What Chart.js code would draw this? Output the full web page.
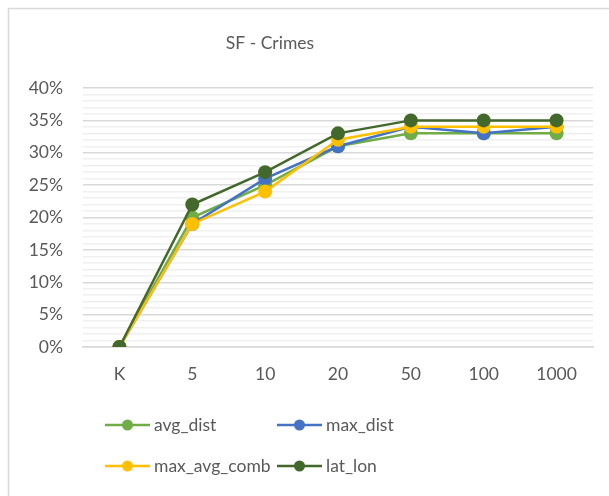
<!DOCTYPE html>
<html>
<head>
<meta charset="utf-8">
<script src="https://cdn.jsdelivr.net/npm/chart.js@4/dist/chart.umd.min.js"></script>
<style>
  html, body { margin: 0; padding: 0; background: #ffffff; }
  #wrap { position: relative; width: 609px; height: 496px; }
  canvas { display: block; }
</style>
</head>
<body>
<div id="wrap"><canvas id="chart" width="609" height="496"></canvas></div>
<script>
// Chart content
const chartTitle = 'SF - Crimes';
const categories = ['K', '5', '10', '20', '50', '100', '1000'];
const avgDist    = [0, 20, 25, 31, 33, 33, 33];
const maxDist    = [0, 19, 26, 31, 34, 33, 34];
const maxAvgComb = [0, 19, 24, 32, 34, 34, 34];
const latLon     = [0, 22, 27, 33, 35, 35, 35];
const seriesNames = ['avg_dist', 'max_dist', 'max_avg_comb', 'lat_lon'];

const FONT = 'Lato, "Open Sans", sans-serif';
const TEXT = '#595959';

// later series are painted over earlier ones (lower order = on top)
function series(label, data, color, order) {
  return {
    label, data, order,
    borderColor: color,
    backgroundColor: color,
    borderWidth: 2.5,
    pointRadius: 7,
    pointHoverRadius: 7,
    pointBorderWidth: 0,
    pointBackgroundColor: color,
    tension: 0
  };
}

// Frame (top and left edges), title and two-column legend
const decor = {
  id: 'decor',
  beforeDraw(chart) {
    const c = chart.ctx;
    c.save();
    c.strokeStyle = '#d9d9d9';
    c.lineWidth = 1.5;
    c.beginPath();
    c.moveTo(8.5, chart.height);
    c.lineTo(8.5, 8.5);
    c.lineTo(chart.width, 8.5);
    c.stroke();
    c.restore();
  },
  afterDraw(chart) {
    const c = chart.ctx;
    c.save();
    c.fillStyle = TEXT;
    c.textAlign = 'center';
    c.textBaseline = 'middle';
    c.font = '17.5px ' + FONT;
    c.fillText(chartTitle, 270, 43);

    const cols = [105, 277];
    const rows = [425, 466];
    chart.data.datasets.forEach((ds, i) => {
      const x = cols[i % 2], y = rows[Math.floor(i / 2)];
      c.strokeStyle = ds.borderColor;
      c.lineWidth = 2.5;
      c.beginPath();
      c.moveTo(x, y);
      c.lineTo(x + 45, y);
      c.stroke();
      c.fillStyle = ds.borderColor;
      c.beginPath();
      c.arc(x + 22.5, y, 5.5, 0, Math.PI * 2);
      c.fill();
      c.fillStyle = TEXT;
      c.textAlign = 'left';
      c.font = '17.5px ' + FONT;
      c.fillText(ds.label, x + 49, y);
    });
    c.restore();
  }
};

new Chart(document.getElementById('chart'), {
  type: 'line',
  data: {
    labels: categories,
    datasets: [
      series(seriesNames[0], avgDist, '#70AD47', 3),
      series(seriesNames[1], maxDist, '#4472C4', 2),
      series(seriesNames[2], maxAvgComb, '#FFC000', 1),
      series(seriesNames[3], latLon, '#43682B', 0)
    ]
  },
  options: {
    responsive: false,
    animation: false,
    events: [],
    layout: { padding: { top: 88, right: 16, bottom: 96, left: 0 } },
    plugins: {
      legend: { display: false },
      title: { display: false },
      tooltip: { enabled: false }
    },
    scales: {
      x: {
        offset: true,
        grid: { display: false, drawTicks: false },
        border: { display: true, color: '#d9d9d9', width: 1.5 },
        ticks: { color: TEXT, font: { family: FONT, size: 17.5 }, padding: 17 },
        afterFit(scale) { scale.height = 53; }
      },
      y: {
        min: 0,
        max: 40,
        border: { display: false },
        grid: {
          drawTicks: false,
          color: ctx => (ctx.tick && ctx.tick.value % 5 === 0) ? '#d9d9d9' : '#f0f0f0',
          lineWidth: 1.5
        },
        ticks: {
          stepSize: 1,
          autoSkip: false,
          color: TEXT,
          font: { family: FONT, size: 17.5 },
          padding: 20,
          callback: v => (v % 5 === 0 ? v + '%' : '')
        },
        afterFit(scale) { scale.width = 83; }
      }
    }
  },
  plugins: [decor]
});
</script>
</body>
</html>
